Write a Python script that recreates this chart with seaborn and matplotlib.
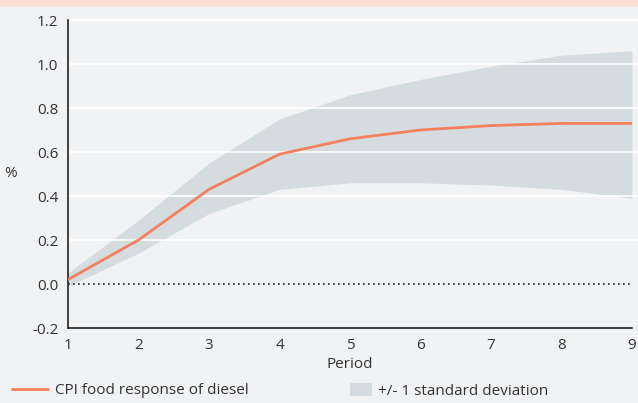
import seaborn as sns
import pandas as pd
import matplotlib.pyplot as plt
from matplotlib.patches import Rectangle, Patch
from matplotlib.lines import Line2D

period = [1, 2, 3, 4, 5, 6, 7, 8, 9]
response = [0.02, 0.20, 0.43, 0.59, 0.66, 0.70, 0.72, 0.73, 0.73]
upper = [0.05, 0.29, 0.55, 0.75, 0.86, 0.93, 0.99, 1.04, 1.06]
lower = [-0.01, 0.14, 0.32, 0.43, 0.46, 0.46, 0.45, 0.43, 0.39]

df = pd.DataFrame({'period': period, 'response': response, 'upper': upper, 'lower': lower})

sns.set_style('white')
plt.rcParams['font.family'] = ['Open Sans', 'DejaVu Sans']

bg = '#f1f2f4'
txt = '#333333'
line_col = '#f4805e'
band_col = '#d5dcdf'
fs = 11

fig = plt.figure(figsize=(6.38, 4.03), dpi=100, facecolor=bg)
fig.patches.append(Rectangle((0, 1 - 7 / 403), 1, 7 / 403, transform=fig.transFigure,
                             facecolor='#fde0d4', edgecolor='none'))
ax = fig.add_axes([68 / 638, 1 - 328 / 403, (632 - 68) / 638, (328 - 20) / 403])
ax.set_facecolor(bg)

ax.fill_between(df['period'], df['lower'], df['upper'], color=band_col, lw=0, zorder=1)
for yv in [0.2, 0.4, 0.6, 0.8, 1.0, 1.2]:
    ax.plot([1, 9.1], [yv, yv], color='white', lw=1.2, zorder=2, clip_on=False)
ax.axhline(0, color='#222222', lw=1.2, ls=(0, (1, 2)), zorder=3)
sns.lineplot(data=df, x='period', y='response', color=line_col, lw=2, ax=ax, zorder=4)

ax.set_xlim(1, 9)
ax.set_ylim(-0.2, 1.2)
ax.set_xticks(period)
ax.set_yticks([-0.2, 0.0, 0.2, 0.4, 0.6, 0.8, 1.0, 1.2])
ax.set_yticklabels(['-0.2', '0.0', '0.2', '0.4', '0.6', '0.8', '1.0', '1.2'])
for s in ['top', 'right']:
    ax.spines[s].set_visible(False)
for s in ['left', 'bottom']:
    ax.spines[s].set_color('#222222')
    ax.spines[s].set_linewidth(1.2)
ax.tick_params(axis='both', direction='out', length=5, width=1.2, color='#222222',
               labelsize=fs, labelcolor=txt, pad=2)
ax.set_xlabel('Period', fontsize=fs, color=txt, labelpad=3)
ax.set_ylabel('%', fontsize=fs, color=txt, rotation=0, va='center', ha='center')
ax.yaxis.set_label_coords(-0.101, 0.503)

handles = [Line2D([0], [0], color=line_col, lw=2)]
fig.legend(handles, ['CPI food response of diesel'], loc='center left',
           bbox_to_anchor=(12 / 638, 12 / 403), frameon=False, fontsize=fs,
           labelcolor=txt, handlelength=2.35, handletextpad=0.45,
           borderpad=0, borderaxespad=0)
fig.legend([Patch(facecolor=band_col, edgecolor='none')], ['+/- 1 standard deviation'],
           loc='center left', bbox_to_anchor=(350 / 638, 12 / 403), frameon=False,
           fontsize=fs, labelcolor=txt, handlelength=1.45, handleheight=0.9,
           handletextpad=0.4, borderpad=0, borderaxespad=0)

fig.savefig('out.png', dpi=100, facecolor=bg)
